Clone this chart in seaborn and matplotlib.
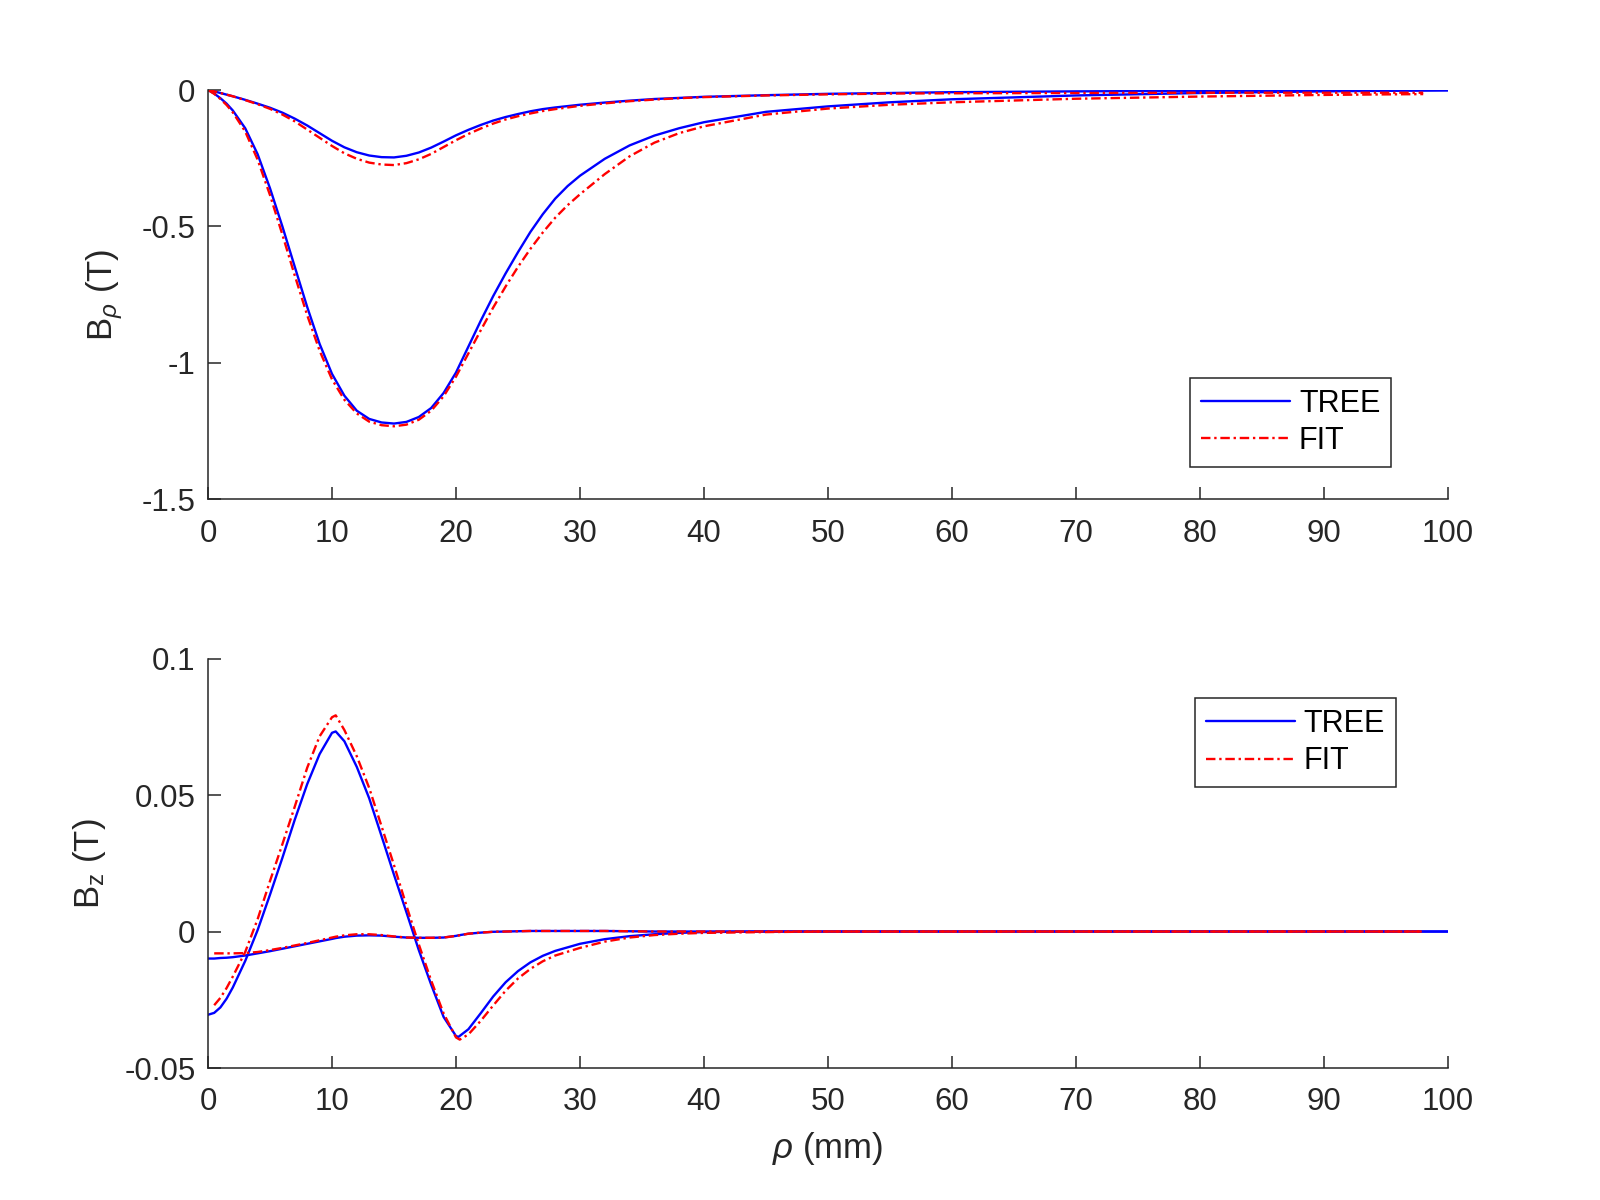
import numpy as np
import pandas as pd
import matplotlib
matplotlib.use("Agg")
import matplotlib.pyplot as plt
import seaborn as sns
from matplotlib.ticker import FuncFormatter

# ---------------- data ----------------
# top panel: B_rho (T)
x_tree_top = [0, 0.5, 1, 1.5, 2, 3, 4, 5, 6, 7, 8, 9, 10, 11, 12, 13, 14, 15, 16, 17, 18, 19,
              20, 21, 22, 23, 24, 25, 26, 27, 28, 29, 30, 32, 34, 36, 38, 40, 45, 50,
              55, 60, 70, 80, 90, 100]
brho_tree_big = [0, -0.013, -0.03, -0.05, -0.075, -0.14, -0.235, -0.36, -0.5, -0.648, -0.795, -0.93,
                 -1.04, -1.12, -1.175, -1.205, -1.218, -1.222, -1.216, -1.198, -1.165, -1.11,
                 -1.035, -0.94, -0.845, -0.755, -0.672, -0.594, -0.52, -0.455, -0.398, -0.352,
                 -0.314, -0.252, -0.203, -0.167, -0.14, -0.118, -0.08, -0.06,
                 -0.045, -0.034, -0.02, -0.011, -0.005, -0.001]
brho_tree_small = [0, -0.005, -0.011, -0.017, -0.023, -0.036, -0.05, -0.065, -0.083, -0.105, -0.13, -0.158,
                   -0.186, -0.21, -0.228, -0.24, -0.246, -0.247, -0.241, -0.229, -0.211, -0.189,
                   -0.166, -0.146, -0.128, -0.112, -0.099, -0.088, -0.078, -0.07, -0.064, -0.059,
                   -0.054, -0.046, -0.039, -0.033, -0.029, -0.025, -0.019, -0.014,
                   -0.011, -0.008, -0.005, -0.003, -0.002, -0.001]

x_fit_top = [0, 0.5, 1, 1.5, 2, 3, 4, 5, 6, 7, 8, 9, 10, 11, 12, 13, 14, 15, 16, 17, 18, 19,
             20, 21, 22, 23, 24, 25, 26, 27, 28, 29, 30, 32, 34, 36, 38, 40, 45, 50,
             55, 60, 70, 80, 90, 98]
brho_fit_big = [0, -0.014, -0.033, -0.055, -0.082, -0.152, -0.255, -0.385, -0.53, -0.68, -0.825, -0.955,
                -1.06, -1.135, -1.185, -1.215, -1.228, -1.232, -1.226, -1.208, -1.175, -1.122,
                -1.05, -0.965, -0.88, -0.797, -0.72, -0.648, -0.582, -0.522, -0.468, -0.422,
                -0.382, -0.308, -0.243, -0.193, -0.158, -0.133, -0.09, -0.068,
                -0.054, -0.045, -0.032, -0.024, -0.018, -0.015]
brho_fit_small = [0, -0.005, -0.011, -0.017, -0.023, -0.037, -0.052, -0.069, -0.09, -0.115, -0.145, -0.175,
                  -0.205, -0.232, -0.252, -0.266, -0.273, -0.275, -0.268, -0.254, -0.234, -0.209,
                  -0.184, -0.161, -0.141, -0.123, -0.108, -0.096, -0.086, -0.077, -0.07, -0.064,
                  -0.058, -0.049, -0.041, -0.035, -0.03, -0.026, -0.02, -0.016,
                  -0.013, -0.012, -0.011, -0.01, -0.01, -0.01]

# bottom panel: B_z (T)
x_tree_bot = [0, 0.5, 1, 1.5, 2, 3, 4, 5, 6, 7, 8, 9, 10, 10.3, 11, 12, 13, 14, 15, 16, 17,
              18, 19, 20, 20.2, 21, 22, 23, 24, 25, 26, 27, 28, 30, 32, 34, 36, 38, 40, 45,
              50, 60, 70, 80, 90, 100]
bz_tree_big = [-0.0305, -0.0298, -0.0278, -0.0246, -0.0205, -0.0108, 0.0005, 0.0135, 0.027,
               0.041, 0.054, 0.065, 0.0728, 0.0733, 0.0697, 0.0603, 0.0488, 0.0349, 0.0208,
               0.0071, -0.0068, -0.0195, -0.0313, -0.0383, -0.0386, -0.0358, -0.0299, -0.0238,
               -0.0186, -0.0145, -0.0113, -0.0089, -0.0071, -0.0045, -0.0028, -0.0017, -0.001,
               -0.0005, -0.0002, 0, 0, 0, 0, 0, 0, 0]
bz_tree_small = [-0.0099, -0.0099, -0.0097, -0.0096, -0.0094, -0.0088, -0.008, -0.0072, -0.0063,
                 -0.0054, -0.0045, -0.0036, -0.0027, -0.0024, -0.0019, -0.0015, -0.0014, -0.0015,
                 -0.0019, -0.0022, -0.0023, -0.0023, -0.0022, -0.0016, -0.0014, -0.0008,
                 -0.0004, -0.0001, 0, 0.0001, 0.0002, 0.0002, 0.0002, 0.0002, 0.0002, 0.0001,
                 0, 0, 0, 0, 0, 0, 0, 0, 0, 0]

x_fit_bot = [0.5, 1, 1.5, 2, 3, 4, 5, 6, 7, 8, 9, 10, 10.3, 11, 12, 13, 14, 15, 16, 17,
             18, 19, 20, 20.3, 21, 22, 23, 24, 25, 26, 27, 28, 30, 32, 34, 36, 38, 40, 45,
             50, 60, 70, 80, 90, 98]
bz_fit_big = [-0.027, -0.0243, -0.0207, -0.0165, -0.0075, 0.0045, 0.0185, 0.032, 0.0458,
              0.06, 0.0715, 0.0785, 0.0792, 0.0738, 0.0642, 0.0526, 0.0385, 0.0243, 0.0095,
              -0.0047, -0.018, -0.030, -0.0388, -0.0396, -0.0377, -0.0327, -0.0271, -0.0217,
              -0.0172, -0.0137, -0.0109, -0.0088, -0.006, -0.0037, -0.0022, -0.0013, -0.0008,
              -0.0005, -0.0002, 0, 0, 0, 0, 0, 0]
bz_fit_small = [-0.008, -0.008, -0.008, -0.008, -0.0079, -0.0075, -0.0068, -0.006, -0.0051,
                -0.0042, -0.0032, -0.0022, -0.0019, -0.0014, -0.001, -0.001, -0.0013, -0.0018,
                -0.0022, -0.0023, -0.0023, -0.0022, -0.0016, -0.0014, -0.0008, -0.0004,
                -0.0001, 0, 0.0001, 0.0002, 0.0002, 0.0002, 0.0002, 0.0002, 0.0001, 0, 0, 0,
                0, 0, 0, 0, 0, 0, 0]

x_ticks = [0, 10, 20, 30, 40, 50, 60, 70, 80, 90, 100]
y_ticks_top = [-1.5, -1, -0.5, 0]
y_ticks_bot = [-0.05, 0, 0.05, 0.1]
labels = ["TREE", "FIT"]

# ---------------- style ----------------
sns.set_theme(style="ticks")
plt.rcParams["font.family"] = ["Liberation Sans", "DejaVu Sans"]
plt.rcParams["mathtext.fontset"] = "custom"
plt.rcParams["mathtext.rm"] = "Liberation Sans"
plt.rcParams["mathtext.it"] = "Liberation Sans:italic"
plt.rcParams["axes.unicode_minus"] = False

AX_COLOR = "#262626"
FS_TICK = 22.5
FS_LABEL = 25
FS_LEG = 22
TREE_KW = dict(color="#0000ff", linewidth=1.7, linestyle="-")
FIT_KW = dict(color="#ff0000", linewidth=1.7, linestyle=(0, (4.0, 1.6, 1.0, 1.6)))

fig = plt.figure(figsize=(16, 12), dpi=100)
ax1 = fig.add_axes([0.13, 0.5838, 0.775, 0.3412])
ax2 = fig.add_axes([0.13, 0.11, 0.775, 0.3412])


def draw(ax, xt, yt_list, xf, yf_list):
    for i, yt in enumerate(yt_list):
        sns.lineplot(x=np.array(xt), y=np.array(yt), ax=ax, sort=False,
                     label=labels[0] if i == 0 else None, legend=False, **TREE_KW)
    for i, yf in enumerate(yf_list):
        sns.lineplot(x=np.array(xf), y=np.array(yf), ax=ax, sort=False,
                     label=labels[1] if i == 0 else None, legend=False, **FIT_KW)


draw(ax1, x_tree_top, [brho_tree_big, brho_tree_small], x_fit_top, [brho_fit_big, brho_fit_small])
draw(ax2, x_tree_bot, [bz_tree_big, bz_tree_small], x_fit_bot, [bz_fit_big, bz_fit_small])

fmt = FuncFormatter(lambda v, p: f"{v:g}")
for ax, yt, ylim in [(ax1, y_ticks_top, (-1.5, 0)), (ax2, y_ticks_bot, (-0.05, 0.1))]:
    ax.set_xlim(0, 100)
    ax.set_ylim(*ylim)
    ax.set_xticks(x_ticks)
    ax.set_yticks(yt)
    ax.xaxis.set_major_formatter(fmt)
    ax.yaxis.set_major_formatter(fmt)
    ax.spines["top"].set_visible(False)
    ax.spines["right"].set_visible(False)
    for s in ["left", "bottom"]:
        ax.spines[s].set_color(AX_COLOR)
        ax.spines[s].set_linewidth(1.1)
    ax.tick_params(direction="in", length=9, width=1.1, colors=AX_COLOR,
                   labelsize=FS_TICK)
    ax.tick_params(axis="x", pad=14)
    ax.tick_params(axis="y", pad=9)
    ax.set_facecolor("white")

ax1.set_ylabel(r"B$_{\rho}$ (T)", fontsize=FS_LABEL, color=AX_COLOR, labelpad=12)
ax2.set_ylabel(r"B$_{\mathrm{z}}$ (T)", fontsize=FS_LABEL, color=AX_COLOR, labelpad=12)
ax2.set_xlabel(r"$\rho$ (mm)", fontsize=FS_LABEL, color=AX_COLOR, labelpad=9)
ax1.set_xlabel("")

for ax, anchor in [(ax1, (0.954, 0.297)), (ax2, (0.958, 0.9035))]:
    h = ax.get_lines()
    leg = ax.legend([h[0], h[2]], labels, loc="upper right", bbox_to_anchor=anchor,
                    fontsize=FS_LEG, frameon=True, fancybox=False, framealpha=1,
                    edgecolor=AX_COLOR, handlelength=2.9, handletextpad=0.3,
                    labelspacing=0.25, borderpad=0.35, borderaxespad=0.0)
    leg.get_frame().set_linewidth(1.1)
    for t in leg.get_texts():
        t.set_color("black")

fig.savefig("out.png", dpi=100, facecolor="white")
